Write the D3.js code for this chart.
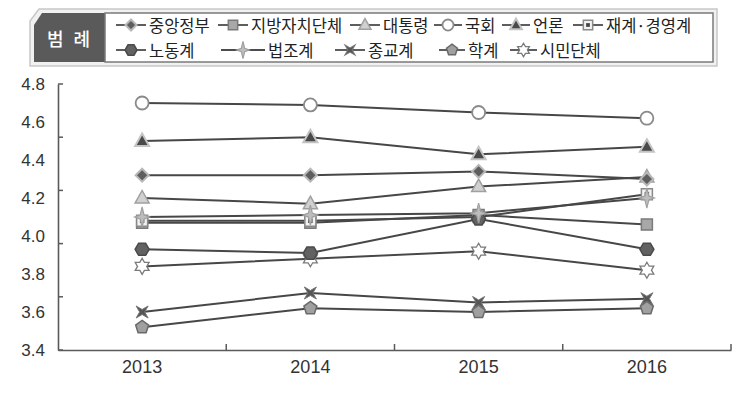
<!DOCTYPE html>
<html><head><meta charset="utf-8">
<script src="https://cdn.jsdelivr.net/npm/d3@7"></script>
<style>
html,body{margin:0;padding:0;background:#fff;}
svg{display:block;}
</style></head>
<body>
<svg id="chart" width="754" height="400"></svg>
<script>
// ---- data ----
const years = ["2013", "2014", "2015", "2016"];
const seriesNames = ["중앙정부", "지방자치단체", "대통령", "국회", "언론", "재계·경영계", "노동계", "법조계", "종교계", "학계", "시민단체"];
const 중앙정부 = [4.32, 4.32, 4.34, 4.30];
const 지방자치단체 = [4.07, 4.07, 4.11, 4.06];
const 대통령 = [4.20, 4.17, 4.26, 4.31];
const 국회 = [4.70, 4.69, 4.65, 4.62];
const 언론 = [4.50, 4.52, 4.43, 4.47];
const 재계경영계 = [4.08, 4.08, 4.10, 4.22];
const 노동계 = [3.93, 3.91, 4.09, 3.93];
const 법조계 = [4.10, 4.11, 4.12, 4.20];
const 종교계 = [3.60, 3.70, 3.65, 3.67];
const 학계 = [3.52, 3.62, 3.60, 3.62];
const 시민단체 = [3.84, 3.88, 3.92, 3.82];
const yTickLabels = [3.4, 3.6, 3.8, 4.0, 4.2, 4.4, 4.6, 4.8];
const legendTitle = "범 례";

const seriesValues = [중앙정부, 지방자치단체, 대통령, 국회, 언론, 재계경영계, 노동계, 법조계, 종교계, 학계, 시민단체];

// ---- custom symbol shapes ----
function poly(pts){return {draw(ctx){ctx.moveTo(pts[0][0],pts[0][1]);for(let i=1;i<pts.length;i++)ctx.lineTo(pts[i][0],pts[i][1]);ctx.closePath();}};}
function regular(n, r, rot){const p=[];for(let i=0;i<n;i++){const a=rot+i*2*Math.PI/n;p.push([r*Math.cos(a),r*Math.sin(a)]);}return poly(p);}
function star(n, rx, ry, ir, rot){const p=[];for(let i=0;i<2*n;i++){const a=rot+i*Math.PI/n;const o=i%2===0;p.push([(o?rx:ir)*Math.cos(a),(o?ry:ir)*Math.sin(a)]);}return poly(p);}
const shapes = {
  diamond: poly([[0,-6.5],[6.5,0],[0,6.5],[-6.5,0]]),
  square: poly([[-5.5,-5.5],[5.5,-5.5],[5.5,5.5],[-5.5,5.5]]),
  triangle: poly([[0,-7.5],[7,5],[-7,5]]),
  circle: {draw(ctx){ctx.moveTo(6.5,0);ctx.arc(0,0,6.5,0,2*Math.PI);}},
  hexagon: regular(6, 7, 0),
  star4: star(4, 7.5, 10, 2.8, -Math.PI/2),
  xmark: star(4, 8.5, 8.5, 2.5, -Math.PI/4),
  pentagon: regular(5, 6.8, -Math.PI/2),
  hexagram: star(6, 8, 8, 4.6, -Math.PI/2),
  innerSquare: poly([[-2.2,-2.2],[2.2,-2.2],[2.2,2.2],[-2.2,2.2]])
};
const styles = [
  {shape:"diamond", fill:"#5e5e5e", stroke:"#b8b8b8", sw:2},
  {shape:"square", fill:"#a8a8a8", stroke:"#7a7a7a", sw:1.5},
  {shape:"triangle", fill:"#d0d0d0", stroke:"#a0a0a0", sw:1.5},
  {shape:"circle", fill:"#ffffff", stroke:"#8a8a8a", sw:1.8},
  {shape:"triangle", fill:"#4a4a4a", stroke:"#c4c4c4", sw:2},
  {shape:"square", fill:"#f2f2f2", stroke:"#8a8a8a", sw:1.5, inner:"#444"},
  {shape:"hexagon", fill:"#626262", stroke:"#4a4a4a", sw:1.5},
  {shape:"star4", fill:"#bdbdbd", stroke:"#a0a0a0", sw:1.2},
  {shape:"xmark", fill:"#555555", stroke:"#777", sw:1},
  {shape:"pentagon", fill:"#a0a0a0", stroke:"#6a6a6a", sw:1.5},
  {shape:"hexagram", fill:"#ffffff", stroke:"#7a7a7a", sw:1.3}
];
const markerOrder = [10, 2, 1, 5, 6, 7, 0, 3, 4, 8, 9];

const svg = d3.select("#chart");
const plot = {left:58, right:731, top:84, bottom:350};

const x = d3.scaleBand().domain(years).range([plot.left, plot.right]);
const y = d3.scaleLinear().domain([3.4, 4.8]).range([plot.bottom, plot.top]);
const cx = d => x(d) + x.bandwidth()/2;

const axisColor = "#5a5a5a";

// y axis
const yAxisG = svg.append("g").attr("transform", `translate(${plot.left},0)`)
  .call(d3.axisLeft(y).tickValues(yTickLabels).tickSize(0).tickPadding(13).tickFormat(d3.format(".1f")));
yAxisG.select(".domain").attr("stroke", axisColor).attr("stroke-width", 1.6);
yAxisG.selectAll("text").attr("font-family", "'Liberation Sans', Arial, sans-serif").attr("font-size", 17).attr("fill", "#333");
// tick marks of the y axis (five equal steps)
const yMarkTicks = d3.range(6).map(i => 3.4 + i*(4.8-3.4)/5);
svg.append("g").selectAll("line").data(yMarkTicks).join("line")
  .attr("x1", plot.left).attr("x2", plot.left+5)
  .attr("y1", d => y(d)).attr("y2", d => y(d))
  .attr("stroke", axisColor).attr("stroke-width", 1.5);

// x axis
const xAxisG = svg.append("g").attr("transform", `translate(0,${plot.bottom})`)
  .call(d3.axisBottom(x).tickSize(0).tickPadding(9));
xAxisG.select(".domain").attr("stroke", axisColor).attr("stroke-width", 1.6);
xAxisG.selectAll("text").attr("font-family", "'Liberation Sans', Arial, sans-serif").attr("font-size", 18).attr("fill", "#333").attr("dy", "0.75em");
const xBounds = years.map(d => x(d)).slice(1).concat([x(years[years.length-1]) + x.bandwidth()]);
svg.append("g").selectAll("line").data(xBounds).join("line")
  .attr("x1", d => d).attr("x2", d => d)
  .attr("y1", plot.bottom).attr("y2", plot.bottom-6)
  .attr("stroke", axisColor).attr("stroke-width", 1.5);

// lines
const line = d3.line().x((d,i) => cx(years[i])).y(d => y(d));
svg.append("g").selectAll("path").data(seriesValues).join("path")
  .attr("d", d => line(d)).attr("fill", "none")
  .attr("stroke", "#474747").attr("stroke-width", 2);

function drawMarker(g, si, px, py, scale){
  const st = styles[si];
  const s = scale || 1;
  g.append("path").attr("d", d3.symbol().type(shapes[st.shape])())
    .attr("transform", `translate(${px},${py}) scale(${s})`)
    .attr("fill", st.fill).attr("stroke", st.stroke).attr("stroke-width", st.sw/s)
    .attr("stroke-linejoin", "miter");
  if (st.inner) {
    g.append("path").attr("d", d3.symbol().type(shapes.innerSquare)())
      .attr("transform", `translate(${px},${py}) scale(${s})`).attr("fill", st.inner);
  }
}

// markers
const mg = svg.append("g");
markerOrder.forEach(si => {
  seriesValues[si].forEach((v, i) => drawMarker(mg, si, cx(years[i]), y(v), 1));
});

// ---- legend ----
const lg = svg.append("g");
lg.append("path").attr("d", "M30,21 L39,9 L717,9 L717,66 L30,66 Z")
  .attr("fill", "#f1f1f1").attr("stroke", "#c8c8c8").attr("stroke-width", 1.5);
lg.append("path").attr("d", "M34,25 L42,13 L105,13 L105,62 L34,62 Z").attr("fill", "#5a5a5a");
lg.append("rect").attr("x", 105).attr("y", 13).attr("width", 608).attr("height", 49)
  .attr("fill", "#fff").attr("stroke", "#7a7a7a").attr("stroke-width", 1.5);
lg.append("text").attr("x", 70).attr("y", 38).attr("text-anchor", "middle").attr("dominant-baseline", "central")
  .attr("fill", "#fff").attr("font-family", "'Noto Sans CJK KR', sans-serif").attr("font-size", 18)
  .attr("letter-spacing", 3).attr("font-weight", 500).text(legendTitle);

const legendLayout = [
  {row:0, sx:116, sw:30}, {row:0, sx:218, sw:30}, {row:0, sx:350, sw:30}, {row:0, sx:434, sw:28},
  {row:0, sx:502, sw:28}, {row:0, sx:573, sw:30},
  {row:1, sx:116, sw:30}, {row:1, sx:221, sw:44}, {row:1, sx:335, sw:30}, {row:1, sx:439, sw:26},
  {row:1, sx:510, sw:27}
];
const rowY = [25, 50];
seriesNames.forEach((name, si) => {
  const L = legendLayout[si];
  const ly = rowY[L.row];
  lg.append("line").attr("x1", L.sx).attr("x2", L.sx + L.sw).attr("y1", ly).attr("y2", ly)
    .attr("stroke", "#4c4c4c").attr("stroke-width", 1.8);
  drawMarker(lg, si, L.sx + L.sw/2, ly, 0.85);
  lg.append("text").attr("x", L.sx + L.sw + 3).attr("y", ly).attr("dominant-baseline", "central")
    .attr("font-family", "'Noto Sans CJK KR', sans-serif").attr("font-size", 16.5).attr("fill", "#222")
    .text(name);
});
</script>
</body></html>
